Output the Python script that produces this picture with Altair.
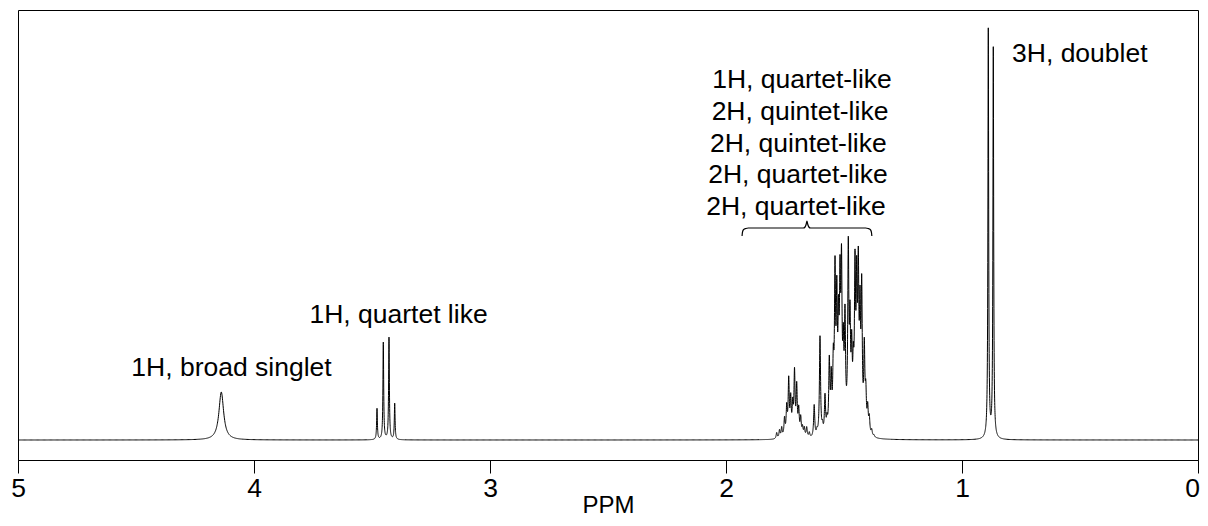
import numpy as np
import pandas as pd
import altair as alt

# ---- peak lists (ppm, height above baseline) ----
SINGLET_PPM = [4.1386]
SINGLET_H = [48]
SINGLET_W = 0.012

QUARTET_PPM = [3.4788, 3.4521, 3.4280, 3.4038]
QUARTET_H = [31, 97, 102, 36]

DOUBLET_PPM = [0.8886, 0.8674]
DOUBLET_H = [409, 390]
SHARP_W = 0.0019

MULTI_PPM = [1.7852, 1.7733, 1.7640, 1.7521, 1.7428, 1.7343, 1.7258, 1.7174,
             1.7097, 1.7004, 1.6919, 1.6835, 1.6758, 1.6682, 1.6581, 1.6470,
             1.6263, 1.6144, 1.6017, 1.5911, 1.5805, 1.5720, 1.5623, 1.5542,
             1.5453, 1.5381, 1.5305, 1.5233, 1.5169, 1.5106, 1.5030, 1.4958,
             1.4818, 1.4746, 1.4674, 1.4606, 1.4534, 1.4462, 1.4394, 1.4322,
             1.4250, 1.4140, 1.4076, 1.3996, 1.3928, 1.3826, 1.3729]
MULTI_H = [6, 8, 10, 18, 28, 55, 35, 28,
           62, 48, 25, 18, 9, 9, 10, 5,
           32, 5, 100, 8, 38, 12, 70, 50,
           60, 150, 120, 90, 130, 150, 70, 105,
           175, 95, 70, 50, 150, 130, 145, 105,
           135, 80, 36, 24, 16, 6, 2]
MULTI_W = 0.0028

# ---- annotation texts ----
LABELS = ["1H, broad singlet", "1H, quartet like", "3H, doublet",
          "1H, quartet-like", "2H, quintet-like", "2H, quintet-like",
          "2H, quartet-like", "2H, quartet-like"]
LABEL_PPM = [4.0954, 3.3877, 0.788, 1.678, 1.6864, 1.6936, 1.6949, 1.7034]
LABEL_Y = [64, 117, 378, 351.7, 320, 288.3, 256.7, 225]
LABEL_ALIGN = ["center", "center", "left", "center", "center", "center", "center", "center"]

BRACE_PPM = [1.932, 1.930, 1.925, 1.916, 1.906, 1.672, 1.665, 1.660, 1.657,
             1.654, 1.649, 1.642, 1.408, 1.398, 1.389, 1.384, 1.382]
BRACE_Y = [204, 208, 210.5, 211.5, 212, 212, 213, 216, 219,
           216, 213, 212, 212, 211.5, 210.5, 208, 204]

TICK_VALUES = [0, 0.5, 1, 1.5, 2, 2.5, 3, 3.5, 4, 4.5, 5]

# ---- build spectrum from the peak list (Lorentzian lines) ----
peaks = ([(p, h, SINGLET_W) for p, h in zip(SINGLET_PPM, SINGLET_H)] +
         [(p, h, SHARP_W) for p, h in zip(QUARTET_PPM, QUARTET_H)] +
         [(p, h, SHARP_W) for p, h in zip(DOUBLET_PPM, DOUBLET_H)] +
         [(p, h, MULTI_W) for p, h in zip(MULTI_PPM, MULTI_H)])

grid = [np.linspace(0, 5, 1001),
        np.arange(1.30, 1.86, 0.0003),
        np.arange(3.36, 3.52, 0.0003),
        np.arange(4.05, 4.23, 0.001),
        np.arange(0.82, 0.94, 0.0003),
        np.array([p for p, _, _ in peaks])]
xs = np.unique(np.concatenate(grid))
ys = np.zeros_like(xs)
for p, h, w in peaks:
    ys += h / (1 + ((xs - p) / w) ** 2)

spec = pd.DataFrame({"ppm": xs, "I": ys})
labels = pd.DataFrame({"text": LABELS, "ppm": LABEL_PPM, "I": LABEL_Y, "align": LABEL_ALIGN})
brace = pd.DataFrame({"ppm": BRACE_PPM, "I": BRACE_Y, "order": list(range(len(BRACE_PPM)))})

FONT = "Liberation Sans"
FS = 26.5
xscale = alt.Scale(domain=[0, 5], reverse=True, nice=False, zero=False)
yscale = alt.Scale(domain=[-20, 430], nice=False, zero=False)

xaxis = alt.Axis(values=TICK_VALUES, format="d",
                 labelExpr="datum.value % 1 === 0 ? datum.label : ''",
                 tickSize={"condition": {"test": "datum.value % 1 === 0", "value": 13}, "value": 9},
                 labelOffset={"condition": {"test": "datum.value === 0", "value": -6}, "value": 0},
                 tickColor="black", domainColor="black", tickWidth=1, domainWidth=1,
                 labelFont=FONT, labelFontSize=FS, labelColor="black", labelPadding=2,
                 labelFlush=False, labelOverlap=False, grid=False,
                 title="PPM", titleFont=FONT, titleFontSize=24, titleFontWeight="normal",
                 titleColor="black", titleBaseline="alphabetic", titleY=52)

line = alt.Chart(spec).mark_line(color="black", strokeWidth=1, clip=True).encode(
    x=alt.X("ppm:Q", scale=xscale, axis=xaxis),
    y=alt.Y("I:Q", scale=yscale, axis=None),
)

text_center = alt.Chart(labels[labels["align"] == "center"]).mark_text(
    font=FONT, fontSize=FS, color="black", align="center", baseline="alphabetic").encode(
    x=alt.X("ppm:Q", scale=xscale), y=alt.Y("I:Q", scale=yscale), text="text:N")

text_left = alt.Chart(labels[labels["align"] == "left"]).mark_text(
    font=FONT, fontSize=FS, color="black", align="left", baseline="alphabetic").encode(
    x=alt.X("ppm:Q", scale=xscale), y=alt.Y("I:Q", scale=yscale), text="text:N")

brace_line = alt.Chart(brace).mark_line(color="black", strokeWidth=1.2, interpolate="monotone").encode(
    x=alt.X("ppm:Q", scale=xscale), y=alt.Y("I:Q", scale=yscale), order="order:Q")

chart = alt.layer(line, brace_line, text_center, text_left).properties(
    width=1180, height=450,
    autosize=alt.AutoSizeParams(type="none"),
    padding={"left": 10, "top": 2, "right": 2, "bottom": 58},
).configure_view(stroke="black", strokeWidth=1)

chart.save("out.html", embed_options={"renderer": "svg", "actions": False})
